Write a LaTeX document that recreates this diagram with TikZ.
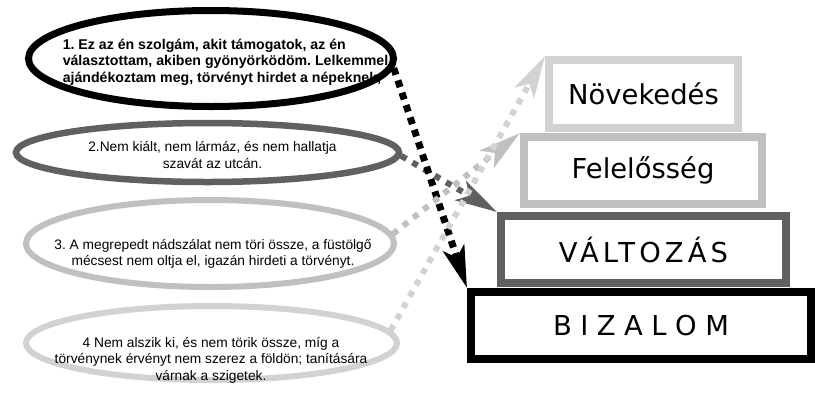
\documentclass[tikz,border=0pt]{standalone}
\usepackage{fontspec}
\setmainfont{Liberation Sans}
\newfontfamily\boxfont{DejaVu Sans}
\usetikzlibrary{arrows.meta,shapes.geometric}
\definecolor{cdark}{HTML}{606060}
\definecolor{cmid}{HTML}{C0C0C0}
\definecolor{clight}{HTML}{D2D2D2}
\frenchspacing
\begin{document}
\begin{tikzpicture}[x=1bp,y=-1bp,
  ell/.style={ellipse, draw, inner sep=0pt, fill=white},
  lvl/.style={rectangle, draw, line width=8bp, inner sep=0pt, fill=white,
    font=\boxfont\fontsize{27.5}{30}\selectfont},
  dots/.style={line width=6bp, dash pattern=on 6bp off 7bp,
    -{Stealth[length=42bp,width=22bp,inset=10bp]}},
  etxt/.style={align=center, inner sep=0pt, font=\fontsize{13.8}{16.5}\selectfont}
]
\useasboundingbox (0,0) rectangle (815,412);

% ellipses
\node[ell, line width=7bp, draw=black, minimum width=365bp, minimum height=96bp] (e1) at (211,58.5) {};
\node[ell, line width=6.5bp, draw=cdark, minimum width=383bp, minimum height=59bp] (e2) at (207.5,152.5) {};
\node[ell, line width=6bp, draw=cmid, minimum width=368bp, minimum height=87bp] (e3) at (210,243.5) {};
\node[ell, line width=6bp, draw=clight, minimum width=371bp, minimum height=74bp] (e4) at (211.5,343) {};

\node[align=left, inner sep=0pt, font=\bfseries\fontsize{14.2}{16.5}\selectfont] (t1) at (225.5,62)
  {1. Ez az én szolgám, akit támogatok, az én\\választottam, akiben gyönyörködöm. Lelkemmel\\ajándékoztam meg, törvényt hirdet a népeknek,};
\node[etxt] (t2) at (212.5,155) {2.Nem kiált, nem lármáz, és nem hallatja\\szavát az utcán.};
\node[etxt] (t3) at (213,254) {3. A megrepedt nádszálat nem töri össze, a füstölgő\\mécsest nem oltja el, igazán hirdeti a törvényt.};
\node[etxt] (t4) at (211,360) {4 Nem alszik ki, és nem törik össze, míg a\\törvénynek érvényt nem szerez a földön; tanítására\\várnak a szigetek.};

% boxes
\node[lvl, draw=clight, minimum width=189bp, minimum height=68bp] (nv) at (643.5,94) {Növekedés};
\node[lvl, draw=cmid, minimum width=238bp, minimum height=67bp] (fe) at (643,170.5) {Felelősség};
\node[lvl, draw=cdark, minimum width=285bp, minimum height=67bp] (va) at (643.5,249.5) {\addfontfeature{LetterSpace=15}VÁLTOZÁS};
\node[lvl, draw=black, minimum width=340bp, minimum height=67bp] (bz) at (641,325.5) {B\hspace{8.5bp}I\hspace{8.5bp}Z\hspace{8.5bp}A\hspace{8.5bp}L\hspace{8.5bp}O\hspace{8.5bp}M};

% arrows
\draw[dots, cdark] (e2.-1.5) -- (va.north west);
\draw[dots, black, line width=7bp, dash pattern=on 7bp off 6bp] (e1.-3) -- (bz.north west);
\draw[dots, cmid] (e3.3) -- (fe.north west);
\draw[dots, clight] (e4.4) -- (nv.north west);
\end{tikzpicture}
\end{document}
